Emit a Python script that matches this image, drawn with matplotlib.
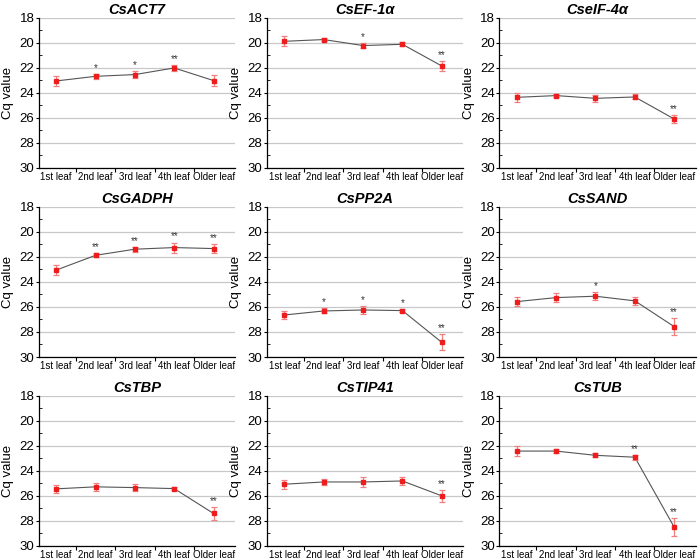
import matplotlib.pyplot as plt
from matplotlib.ticker import MultipleLocator, FixedLocator

plt.rcParams['font.family'] = ['Liberation Sans', 'DejaVu Sans']

categorias = ['1st leaf', '2nd leaf', '3rd leaf', '4th leaf', 'Older leaf']

genes = ['CsACT7', 'CsEF-1α', 'CseIF-4α',
         'CsGADPH', 'CsPP2A', 'CsSAND',
         'CsTBP', 'CsTIP41', 'CsTUB']

cq_act7 = [23.04, 22.67, 22.53, 22.00, 23.01]
cq_ef1a = [19.87, 19.73, 20.21, 20.11, 21.84]
cq_eif4a = [24.35, 24.21, 24.43, 24.32, 26.08]
cq_gadph = [23.05, 21.87, 21.38, 21.25, 21.33]
cq_pp2a = [26.64, 26.32, 26.24, 26.29, 28.83]
cq_sand = [25.57, 25.25, 25.14, 25.51, 27.57]
cq_tbp = [25.43, 25.27, 25.33, 25.41, 27.40]
cq_tip41 = [25.06, 24.88, 24.88, 24.80, 25.99]
cq_tub = [22.41, 22.41, 22.75, 22.90, 28.49]

err_act7 = [0.40, 0.20, 0.25, 0.25, 0.45]
err_ef1a = [0.40, 0.15, 0.20, 0.15, 0.40]
err_eif4a = [0.35, 0.15, 0.30, 0.20, 0.35]
err_gadph = [0.40, 0.15, 0.20, 0.40, 0.35]
err_pp2a = [0.30, 0.20, 0.35, 0.10, 0.65]
err_sand = [0.35, 0.35, 0.30, 0.30, 0.65]
err_tbp = [0.30, 0.30, 0.25, 0.15, 0.55]
err_tip41 = [0.35, 0.25, 0.40, 0.30, 0.50]
err_tub = [0.40, 0.15, 0.15, 0.20, 0.70]

sig_act7 = ['', '*', '*', '**', '']
sig_ef1a = ['', '', '*', '', '**']
sig_eif4a = ['', '', '', '', '**']
sig_gadph = ['', '**', '**', '**', '**']
sig_pp2a = ['', '*', '*', '*', '**']
sig_sand = ['', '', '*', '', '**']
sig_tbp = ['', '', '', '', '**']
sig_tip41 = ['', '', '', '', '**']
sig_tub = ['', '', '', '**', '**']

valores = [cq_act7, cq_ef1a, cq_eif4a, cq_gadph, cq_pp2a, cq_sand, cq_tbp, cq_tip41, cq_tub]
erros = [err_act7, err_ef1a, err_eif4a, err_gadph, err_pp2a, err_sand, err_tbp, err_tip41, err_tub]
sigs = [sig_act7, sig_ef1a, sig_eif4a, sig_gadph, sig_pp2a, sig_sand, sig_tbp, sig_tip41, sig_tub]

fig = plt.figure(figsize=(7, 5.6), dpi=100)

lefts = [0.055, 0.381, 0.713]
bottoms = [0.70, 0.3625, 0.025]
largura, altura = 0.281, 0.268

x = list(range(len(categorias)))
for i, gene in enumerate(genes):
    ax = fig.add_axes([lefts[i % 3], bottoms[i // 3], largura, altura])
    y, e, s = valores[i], erros[i], sigs[i]

    ax.plot(x, y, color='#555555', linewidth=0.8, zorder=2)
    ax.errorbar(x, y, yerr=e, fmt='none', ecolor='#f08080', elinewidth=0.9,
                capsize=2, capthick=0.9, zorder=3)
    ax.plot(x, y, 's', color='#ee1c1c', markersize=3.2, zorder=4)
    for xi, yi, ei, si in zip(x, y, e, s):
        if si:
            ax.text(xi, yi - ei - 0.08, si, ha='center', va='bottom',
                    fontsize=7, color='#333333')

    ax.set_ylim(30, 18)
    ax.set_xlim(-0.45, 4.55)
    ax.yaxis.set_major_locator(MultipleLocator(2))
    ax.yaxis.set_minor_locator(MultipleLocator(1))
    ax.grid(True, axis='y', which='major', color='#c8c8c8', linewidth=0.9)
    ax.set_axisbelow(True)

    ax.xaxis.set_major_locator(FixedLocator([0.5, 1.5, 2.5, 3.5]))
    ax.xaxis.set_minor_locator(FixedLocator(x))
    ax.xaxis.set_major_formatter(plt.NullFormatter())
    ax.set_xticklabels(categorias, minor=True)
    ax.tick_params(axis='x', which='minor', length=0, labelsize=7, pad=3)
    ax.tick_params(axis='x', which='major', length=3, direction='out')
    ax.tick_params(axis='y', which='major', length=2.5, direction='out',
                   labelsize=9.5, pad=0.5)
    ax.tick_params(axis='y', which='minor', length=2, direction='in')

    for lado in ['top', 'right']:
        ax.spines[lado].set_visible(False)
    ax.spines['left'].set_linewidth(0.9)
    ax.spines['bottom'].set_linewidth(0.9)

    ax.set_ylabel('Cq value', fontsize=9.5)
    ax.yaxis.set_label_coords(-0.125, 0.5)
    ax.set_title(gene, fontsize=10.5, fontweight='bold', fontstyle='italic', pad=3)

fig.savefig('out.png', dpi=100)
